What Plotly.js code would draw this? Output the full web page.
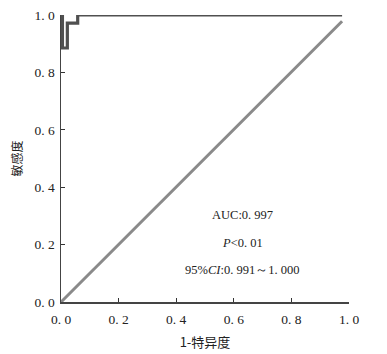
<!DOCTYPE html>
<html>
<head>
<meta charset="utf-8">
<script src="https://cdn.plot.ly/plotly-3.0.1.min.js"></script>
<style>html,body{margin:0;padding:0;background:#fff;}#chart{width:387px;height:354px;}</style>
</head>
<body>
<div id="chart"></div>
<script>
// ROC curve (1 - specificity vs sensitivity)
const rocFpr = [0.005, 0.005, 0.022, 0.022, 0.058, 0.058, 0.976];
const rocTpr = [1.0, 0.885, 0.885, 0.972, 0.972, 1.0, 1.0];
// reference diagonal
const refX = [0, 0.976];
const refY = [0, 0.978];
const tickVals = [0, 0.2, 0.4, 0.6, 0.8, 1.0];
const tickText = ["0. 0", "0. 2", "0. 4", "0. 6", "0. 8", "1. 0"];
const xTitle = "1-特异度";
const yTitle = "敏感度";
const notes = ["AUC:0. 997", "<i>P</i>&lt;0. 01", "95%<i>CI</i>:0. 991～1. 000"];
const noteY = [0.303, 0.206, 0.111];

const serif = "Liberation Serif, DejaVu Serif, serif";
const cjk = "Noto Sans CJK SC, sans-serif";

const data = [
  {x: refX, y: refY, mode: 'lines', line: {color: '#8a8a8a', width: 3}, hoverinfo: 'skip', showlegend: false},
  {x: rocFpr, y: rocTpr, mode: 'lines', line: {color: '#505050', width: 3.2}, hoverinfo: 'skip', showlegend: false}
];

const axisCommon = {
  range: [0, 1], tickvals: tickVals, ticktext: tickText,
  ticks: 'inside', ticklen: 4, tickwidth: 1, tickcolor: '#333',
  showline: true, linecolor: '#444', linewidth: 1.5,
  showgrid: false, zeroline: false, fixedrange: true,
  tickfont: {family: serif, size: 13.5, color: '#222'}
};

const layout = {
  width: 387, height: 354,
  margin: {l: 61, r: 38, t: 15, b: 52},
  paper_bgcolor: '#fff', plot_bgcolor: '#fff',
  xaxis: Object.assign({}, axisCommon, {
    ticklabelstandoff: 4,
    title: {text: xTitle, font: {family: cjk, size: 13, color: '#222'}, standoff: 12}
  }),
  yaxis: Object.assign({}, axisCommon, {
    ticklabelstandoff: 2,
    title: {text: yTitle, font: {family: cjk, size: 12, color: '#222'}, standoff: 9}
  }),
  annotations: notes.map((t, i) => ({
    x: 0.63, y: noteY[i], xref: 'x', yref: 'y', text: t, showarrow: false,
    font: {family: serif, size: 12.5, color: '#222'}
  }))
};

Plotly.newPlot('chart', data, layout, {displayModeBar: false, staticPlot: true});
</script>
</body>
</html>
